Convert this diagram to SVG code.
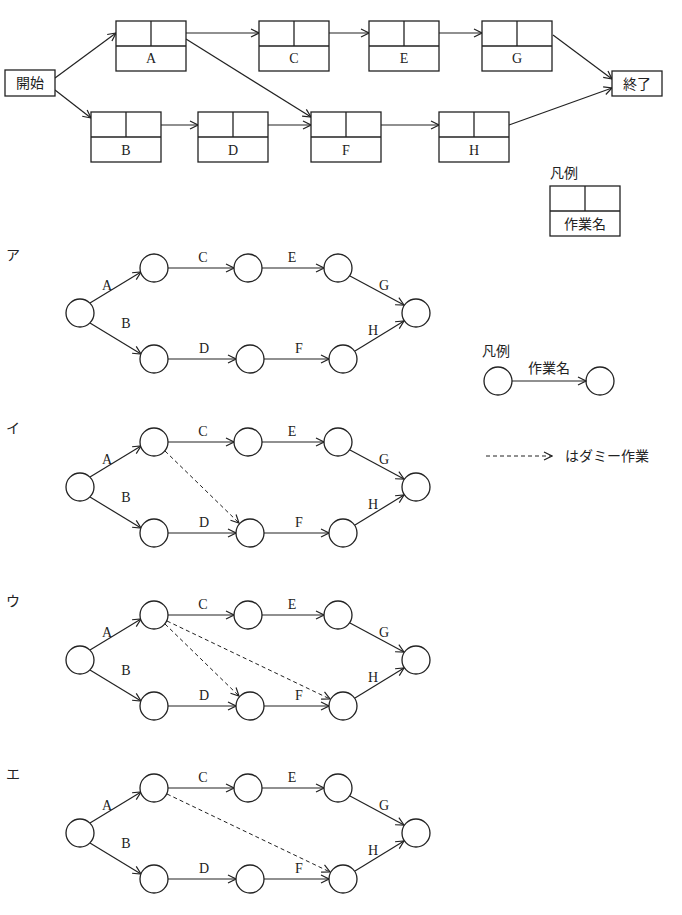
<svg xmlns="http://www.w3.org/2000/svg" width="682" height="915" viewBox="0 0 682 915">
<style>
.b{fill:#fff;stroke:#222;stroke-width:1.3}
.l{stroke:#222;stroke-width:1.3;fill:none}
.c{fill:#fff;stroke:#222;stroke-width:1.3}
.a{stroke:#222;stroke-width:1.2;fill:none;marker-end:url(#ah)}
.d{stroke:#222;stroke-width:1;fill:none;stroke-dasharray:4 3;marker-end:url(#ah)}
.t{font-family:"Liberation Serif",serif;font-size:14px;fill:#222;text-anchor:middle}
.j{font-family:"Noto Sans CJK JP",sans-serif;font-size:14px;fill:#222}
</style>
<defs>
<marker id="ah" markerWidth="10" markerHeight="10" refX="9" refY="5" orient="auto" markerUnits="userSpaceOnUse">
<path d="M1,1 L9,5 L1,9" fill="none" stroke="#222" stroke-width="1.2"/>
</marker>
<g id="box"><rect class="b" x="0" y="0" width="70" height="50"/><line class="l" x1="0" y1="25" x2="70" y2="25"/><line class="l" x1="35" y1="0" x2="35" y2="25"/></g>
</defs>
<g id="top-connectors">
<line class="a" x1="55" y1="78" x2="116" y2="33"/>
<line class="a" x1="55" y1="90" x2="91" y2="118"/>
<line class="a" x1="186" y1="33" x2="259" y2="33"/>
<line class="a" x1="186" y1="39" x2="311" y2="117"/>
<line class="a" x1="328" y1="33" x2="369" y2="33"/>
<line class="a" x1="439" y1="33" x2="482" y2="33"/>
<line class="a" x1="553" y1="35" x2="612" y2="79"/>
<line class="a" x1="161" y1="125" x2="198" y2="125"/>
<line class="a" x1="268" y1="125" x2="311" y2="125"/>
<line class="a" x1="381" y1="125" x2="439" y2="125"/>
<line class="a" x1="509" y1="125" x2="612" y2="88"/>
</g>
<g id="start"><rect class="b" x="5" y="70" width="50" height="26"/><text class="j" x="30" y="88" text-anchor="middle">開始</text></g>
<g id="end"><rect class="b" x="612" y="71" width="50" height="25"/><text class="j" x="637" y="89" text-anchor="middle">終了</text></g>
<g id="nA"><use href="#box" x="116" y="21"/><text class="t" x="151" y="63">A</text></g>
<g id="nC"><use href="#box" x="259" y="21"/><text class="t" x="294" y="63">C</text></g>
<g id="nE"><use href="#box" x="369" y="21"/><text class="t" x="404" y="63">E</text></g>
<g id="nG"><use href="#box" x="482" y="21"/><text class="t" x="517" y="63">G</text></g>
<g id="nB"><use href="#box" x="91" y="112"/><text class="t" x="126" y="155">B</text></g>
<g id="nD"><use href="#box" x="198" y="112"/><text class="t" x="233" y="155">D</text></g>
<g id="nF"><use href="#box" x="311" y="112"/><text class="t" x="346" y="155">F</text></g>
<g id="nH"><use href="#box" x="439" y="112"/><text class="t" x="474" y="155">H</text></g>
<g id="legend1"><text class="j" x="550" y="178">凡例</text><use href="#box" x="550" y="186"/><text class="j" x="585" y="229" text-anchor="middle">作業名</text></g>

<defs>
<g id="net">
<g class="conn">
<line class="a" x1="90" y1="303" x2="141" y2="272"/>
<line class="a" x1="90" y1="323" x2="141" y2="354"/>
<line class="a" x1="168" y1="268" x2="234" y2="268"/>
<line class="a" x1="262" y1="268" x2="324" y2="268"/>
<line class="a" x1="350" y1="276" x2="404" y2="305"/>
<line class="a" x1="168" y1="359" x2="236" y2="359"/>
<line class="a" x1="264" y1="359" x2="329" y2="359"/>
<line class="a" x1="355" y1="351" x2="404" y2="321"/>
</g>
<circle class="c" cx="80" cy="313" r="14"/>
<circle class="c" cx="154" cy="268" r="14"/>
<circle class="c" cx="248" cy="268" r="14"/>
<circle class="c" cx="338" cy="268" r="14"/>
<circle class="c" cx="416" cy="313" r="14"/>
<circle class="c" cx="154" cy="359" r="14"/>
<circle class="c" cx="250" cy="359" r="14"/>
<circle class="c" cx="343" cy="359" r="14"/>
<text class="t" x="107" y="290">A</text>
<text class="t" x="126" y="328">B</text>
<text class="t" x="203" y="262">C</text>
<text class="t" x="292" y="262">E</text>
<text class="t" x="384" y="290">G</text>
<text class="t" x="204" y="353">D</text>
<text class="t" x="299" y="353">F</text>
<text class="t" x="373" y="335">H</text>
</g>
</defs>

<g id="opt-a"><text class="j" x="6" y="260">ア</text><use href="#net"/></g>
<g id="opt-i"><text class="j" x="6" y="433">イ</text><use href="#net" y="174"/>
<g class="dummy"><line class="d" x1="165" y1="451" x2="239" y2="523"/></g></g>
<g id="opt-u"><text class="j" x="6" y="606">ウ</text><use href="#net" y="347"/>
<g class="dummy"><line class="d" x1="165" y1="624" x2="239" y2="696"/><line class="d" x1="167" y1="621" x2="330" y2="699"/></g></g>
<g id="opt-e"><text class="j" x="6" y="779">エ</text><use href="#net" y="520"/>
<g class="dummy"><line class="d" x1="167" y1="794" x2="330" y2="872"/></g></g>

<g id="legend2">
<text class="j" x="482" y="356">凡例</text>
<circle class="c" cx="498" cy="381" r="14"/>
<circle class="c" cx="600" cy="381" r="14"/>
<line class="a" x1="512" y1="381" x2="586" y2="381"/>
<text class="j" x="549" y="373" text-anchor="middle">作業名</text>
<line class="d" x1="486" y1="456" x2="552" y2="456"/>
<text class="j" x="565" y="461">はダミー作業</text>
</g>
</svg>
